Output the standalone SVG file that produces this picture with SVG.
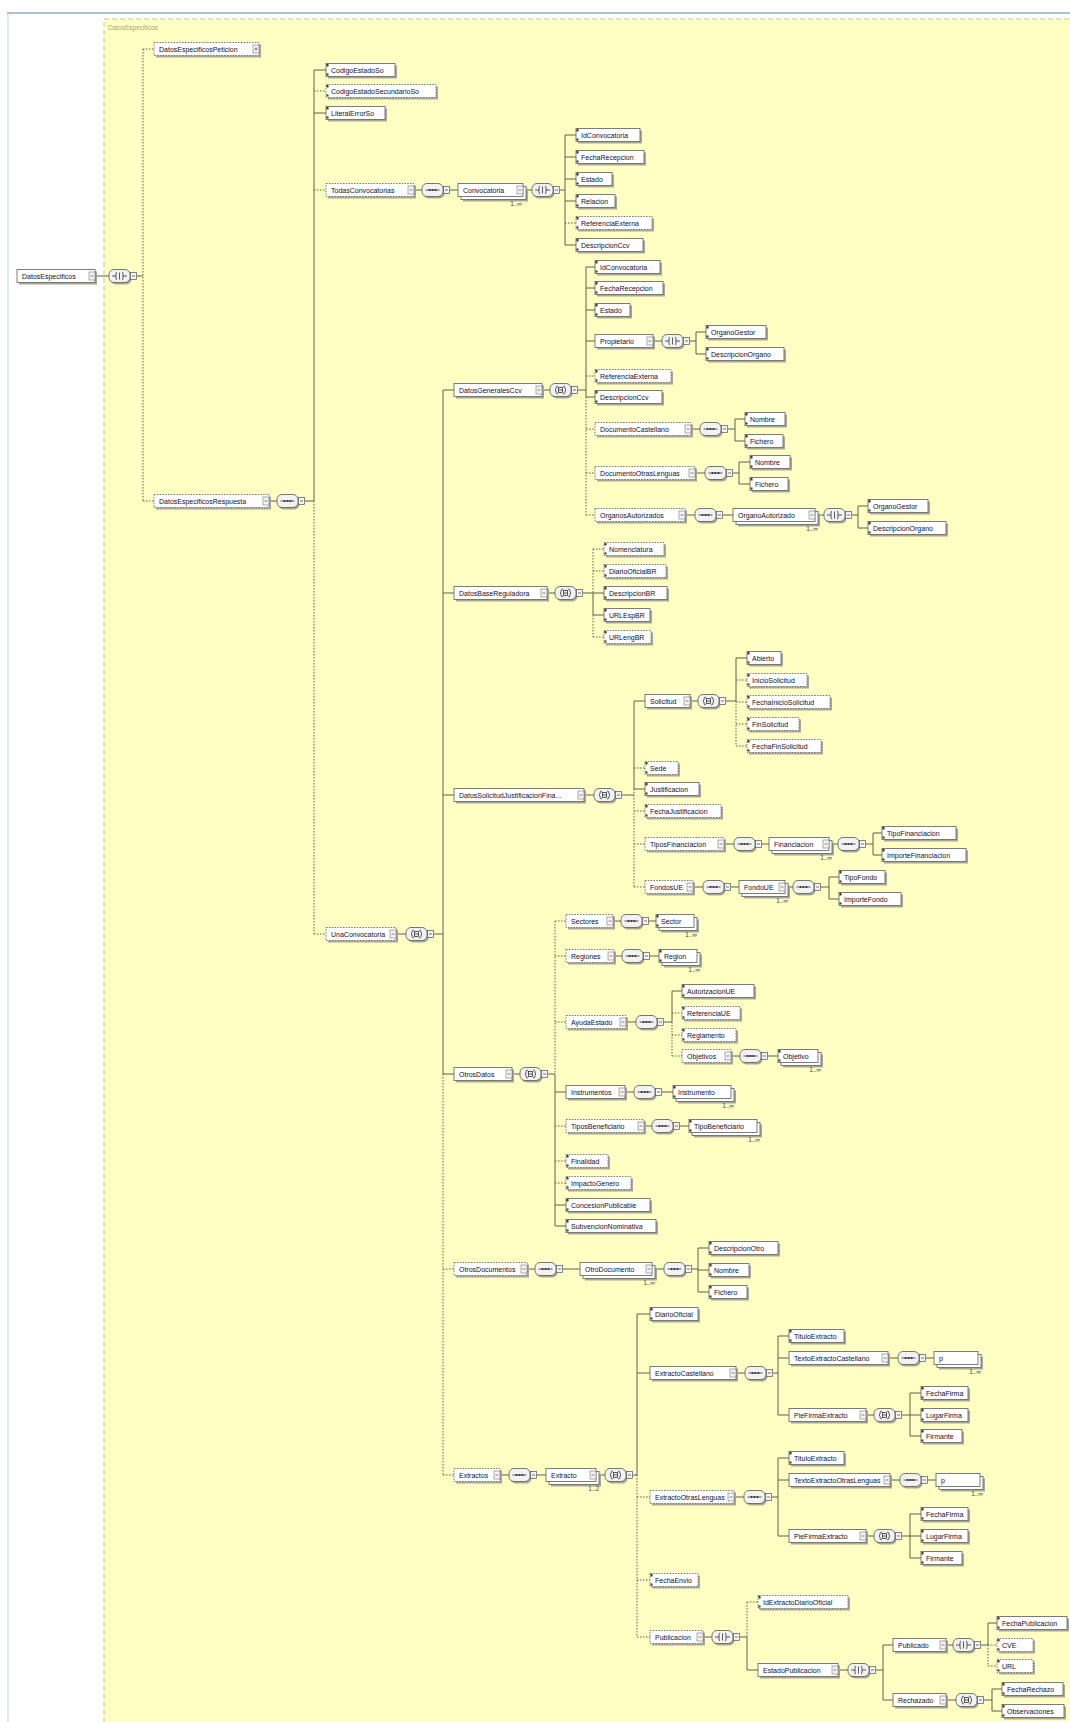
<svg xmlns="http://www.w3.org/2000/svg" xmlns:xlink="http://www.w3.org/1999/xlink" width="1070" height="1722" viewBox="0 0 1070 1722">
<style>
.s{fill:#a9a896}
.b{fill:#fff;stroke:#6e6e6e;stroke-width:0.9}
.o{stroke-dasharray:1.6 1.2}
.t{font-family:"Liberation Sans",Arial,sans-serif;font-size:7px;fill:#10102e}
.m{font-family:"Liberation Sans",Arial,sans-serif;font-size:6.5px;fill:#444;text-anchor:end}
.k{fill:none;stroke:#5e5e4e;stroke-width:1}
.dt{stroke-dasharray:1.5 1.5}
.cp{fill:#f2f2f2;stroke:#666;stroke-width:0.9}
.ic{fill:none;stroke:#333;stroke-width:0.8}
</style>
<defs>
<g id="ex"><rect x="-3" y="-4" width="6" height="8" fill="#f4f4f4" stroke="#8a8a8a" stroke-width="0.7"/><path d="M-1.5,0H1.5" stroke="#555" stroke-width="0.7"/></g>
<g id="exp"><rect x="-3" y="-4" width="6" height="8" fill="#f4f4f4" stroke="#8a8a8a" stroke-width="0.7"/><path d="M-1.5,0H1.5M0,-1.5V1.5" stroke="#555" stroke-width="0.7"/></g>
<g id="lf"><rect x="0.5" y="-6" width="2" height="2.5" fill="#333"/><rect x="0.5" y="3.5" width="2" height="2" fill="#333"/></g>
<g id="cbox"><rect x="21.5" y="-3.5" width="6" height="7" fill="#f4f4f4" stroke="#555" stroke-width="0.7"/><path d="M23,0H26" stroke="#444" stroke-width="0.7"/></g>
<g id="cSeq"><rect x="1.5" y="-4.5" width="21" height="13" rx="5" class="s"/><rect x="0" y="-6.5" width="21" height="13" rx="5" class="cp"/><path d="M3.5,0H17.5" class="ic"/><circle cx="7.5" cy="0" r="1.1" fill="#333"/><circle cx="10.5" cy="0" r="1.1" fill="#333"/><circle cx="13.5" cy="0" r="1.1" fill="#333"/><use href="#cbox"/></g>
<g id="cAll"><rect x="1.5" y="-4.5" width="21" height="13" rx="5" class="s"/><rect x="0" y="-6.5" width="21" height="13" rx="5" class="cp"/><path d="M8,-4Q6,-4 6,-2V-1L5,0L6,1V2Q6,4 8,4M13,-4Q15,-4 15,-2V-1L16,0L15,1V2Q15,4 13,4" class="ic"/><rect x="8.5" y="-2.5" width="4" height="5" class="ic"/><path d="M8.5,0H12.5" class="ic"/><use href="#cbox"/></g>
<g id="cCh"><rect x="1.5" y="-4.5" width="21" height="13" rx="5" class="s"/><rect x="0" y="-6.5" width="21" height="13" rx="5" class="cp"/><path d="M3,0H7M14,0H18M8,-4Q7,-4 7,-2V2Q7,4 8,4M13,-4Q14,-4 14,-2V2Q14,4 13,4M10.5,-3.5V3.5" class="ic"/><use href="#cbox"/></g>
</defs>
<rect x="0" y="0" width="1070" height="1722" fill="#fff"/>
<rect x="7" y="12" width="1063" height="2" fill="#aac0d6"/>
<rect x="7" y="14" width="2" height="1708" fill="#e2ebf3"/>
<rect x="104" y="19" width="980" height="1720" fill="#ffffc4" stroke="#c9c49a" stroke-width="1" stroke-dasharray="5 3"/>
<text x="108" y="30" style="font-family:'Liberation Sans',Arial,sans-serif;font-size:6.5px;fill:#a8a478">DatosEspecificos</text>

<g id="connectors">
<path class="k" d="M95,276H109M137,276H143M269,501H277M305,501H314M314,70V501M314,70H326M314,113H326M414,190H422M450,190H458M526,190H532M560,190H565M565,135V245M565,135H576M565,157H576M565,179H576M565,201H576M565,245H576M396,934H406M434,934H443M443,390V1074M443,390H454M443,593H454M443,795H454M443,1074H454M542,390H550M578,390H586M586,267V397M586,267H595M586,288H595M586,310H595M586,341H595M586,397H595M653,341H662M690,341H696M696,332V354M696,332H706M696,354H706M691,429H700M728,429H735M735,419V441M735,419H745M735,441H745M695,473H705M733,473H739M739,462V484M739,462H750M739,484H750M685,515H695M723,515H733M818,515H824M852,515H858M858,506V528M858,506H868M858,528H868M547,593H555M583,593H593M593,593V615M593,593H604M593,615H604M584,795H594M622,795H634M634,701V789M634,701H645M634,789H645M690,701H698M726,701H736M736,658V701M736,658H747M724,844H734M762,844H769M832,844H838M866,844H873M873,833V855M873,833H882M873,855H882M693,887H703M731,887H739M788,887H793M821,887H829M829,877V899M829,877H839M829,899H839M512,1074H520M548,1074H555M555,1074V1226M555,1092H566M555,1205H566M555,1226H566M613,921H621M649,921H656M614,956H622M650,956H659M626,1022H636M664,1022H672M672,991V1022M672,991H682M731,1056H740M768,1056H778M625,1092H634M662,1092H673M644,1126H652M680,1126H689M527,1269H535M563,1269H580M655,1269H664M692,1269H698M698,1248V1292M698,1248H709M698,1270H709M698,1292H709M500,1475H509M537,1475H546M599,1475H605M633,1475H637M637,1314V1475M637,1314H650M637,1373H650M736,1373H745M773,1373H778M778,1336V1415M778,1336H789M778,1358H789M778,1415H789M888,1358H898M926,1358H934M866,1415H874M902,1415H910M910,1393V1436M910,1393H921M910,1415H921M910,1436H921M734,1497H744M772,1497H778M778,1458V1536M778,1458H789M778,1480H789M778,1536H789M890,1480H900M928,1480H936M866,1536H874M902,1536H910M910,1514V1558M910,1514H921M910,1536H921M910,1558H921M703,1637H712M740,1637H747M747,1637V1670M747,1670H758M838,1670H848M876,1670H883M883,1645V1700M883,1645H893M883,1700H893M946,1645H953M981,1645H988M988,1623V1645M988,1623H997M946,1700H956M984,1700H992M992,1689V1711M992,1689H1002M992,1711H1002"/>
<path class="k dt" d="M143,49V501M143,49H154M143,501H154M314,501V934M314,91H326M314,190H326M314,934H326M565,223H576M443,1074V1475M443,1269H454M443,1475H454M586,397V515M586,376H595M586,429H595M586,473H595M586,515H595M593,549V593M593,615V637M593,549H604M593,571H604M593,637H604M634,789V887M634,768H645M634,811H645M634,844H645M634,887H645M736,701V746M736,680H747M736,702H747M736,724H747M736,746H747M555,921V1074M555,921H566M555,956H566M555,1022H566M555,1126H566M555,1161H566M555,1183H566M672,1022V1056M672,1013H682M672,1035H682M672,1056H682M637,1475V1637M637,1497H650M637,1580H650M637,1637H650M747,1602V1637M747,1602H758M988,1645V1666M988,1645H997M988,1666H997"/>
</g>

<g id="compositors">
<use href="#cCh" x="109" y="276"/><use href="#cSeq" x="277" y="501"/><use href="#cSeq" x="422" y="190"/><use href="#cCh" x="532" y="190"/><use href="#cAll" x="406" y="934"/><use href="#cAll" x="550" y="390"/><use href="#cCh" x="662" y="341"/><use href="#cSeq" x="700" y="429"/><use href="#cSeq" x="705" y="473"/><use href="#cSeq" x="695" y="515"/><use href="#cCh" x="824" y="515"/><use href="#cAll" x="555" y="593"/><use href="#cAll" x="594" y="795"/><use href="#cAll" x="698" y="701"/><use href="#cSeq" x="734" y="844"/><use href="#cSeq" x="838" y="844"/><use href="#cSeq" x="703" y="887"/><use href="#cSeq" x="793" y="887"/><use href="#cAll" x="520" y="1074"/><use href="#cSeq" x="621" y="921"/><use href="#cSeq" x="622" y="956"/><use href="#cSeq" x="636" y="1022"/><use href="#cSeq" x="740" y="1056"/><use href="#cSeq" x="634" y="1092"/><use href="#cSeq" x="652" y="1126"/><use href="#cSeq" x="535" y="1269"/><use href="#cSeq" x="664" y="1269"/><use href="#cSeq" x="509" y="1475"/><use href="#cAll" x="605" y="1475"/><use href="#cSeq" x="745" y="1373"/><use href="#cSeq" x="898" y="1358"/><use href="#cAll" x="874" y="1415"/><use href="#cSeq" x="744" y="1497"/><use href="#cSeq" x="900" y="1480"/><use href="#cAll" x="874" y="1536"/><use href="#cCh" x="712" y="1637"/><use href="#cCh" x="848" y="1670"/><use href="#cCh" x="953" y="1645"/><use href="#cAll" x="956" y="1700"/>
</g>

<g id="nodes">
<g id="DatosEspecificos"><rect class="s" x="19" y="271.5" width="78" height="13"/><rect class="b" x="17" y="269.5" width="78" height="13"/><text class="t" x="22" y="278.5">DatosEspecificos</text><use href="#ex" x="92" y="276"/></g>
<g id="DatosEspecificosPeticion"><rect class="s" x="156" y="44.5" width="105" height="13"/><rect class="b o" x="154" y="42.5" width="105" height="13"/><text class="t" x="159" y="51.5">DatosEspecificosPeticion</text><use href="#exp" x="256" y="49"/></g>
<g id="DatosEspecificosRespuesta"><rect class="s" x="156" y="496.5" width="115" height="13"/><rect class="b o" x="154" y="494.5" width="115" height="13"/><text class="t" x="159" y="503.5">DatosEspecificosRespuesta</text><use href="#ex" x="266" y="501"/></g>
<g id="CodigoEstadoSo"><rect class="s" x="328" y="65.5" width="69" height="13"/><rect class="b" x="326" y="63.5" width="69" height="13"/><use href="#lf" x="326" y="70"/><text class="t" x="331" y="72.5">CodigoEstadoSo</text></g>
<g id="CodigoEstadoSecundarioSo"><rect class="s" x="328" y="86.5" width="110" height="13"/><rect class="b o" x="326" y="84.5" width="110" height="13"/><use href="#lf" x="326" y="91"/><text class="t" x="331" y="93.5">CodigoEstadoSecundarioSo</text></g>
<g id="LiteralErrorSo"><rect class="s" x="328" y="108.5" width="59" height="13"/><rect class="b" x="326" y="106.5" width="59" height="13"/><use href="#lf" x="326" y="113"/><text class="t" x="331" y="115.5">LiteralErrorSo</text></g>
<g id="TodasConvocatorias"><rect class="s" x="328" y="185.5" width="88" height="13"/><rect class="b o" x="326" y="183.5" width="88" height="13"/><text class="t" x="331" y="192.5">TodasConvocatorias</text><use href="#ex" x="411" y="190"/></g>
<g id="Convocatoria"><rect class="s" x="463" y="188.5" width="65" height="13"/><rect class="b" x="461" y="186.5" width="65" height="13"/><rect class="b" x="458" y="183.5" width="65" height="13"/><text class="t" x="463" y="192.5">Convocatoria</text><use href="#ex" x="520" y="190"/><text class="m" x="522" y="206">1..∞</text></g>
<g id="TC-IdConvocatoria"><rect class="s" x="578" y="130.5" width="64" height="13"/><rect class="b" x="576" y="128.5" width="64" height="13"/><use href="#lf" x="576" y="135"/><text class="t" x="581" y="137.5">IdConvocatoria</text></g>
<g id="TC-FechaRecepcion"><rect class="s" x="578" y="152.5" width="68" height="13"/><rect class="b" x="576" y="150.5" width="68" height="13"/><use href="#lf" x="576" y="157"/><text class="t" x="581" y="159.5">FechaRecepcion</text></g>
<g id="TC-Estado"><rect class="s" x="578" y="174.5" width="36" height="13"/><rect class="b" x="576" y="172.5" width="36" height="13"/><use href="#lf" x="576" y="179"/><text class="t" x="581" y="181.5">Estado</text></g>
<g id="TC-Relacion"><rect class="s" x="578" y="196.5" width="39" height="13"/><rect class="b" x="576" y="194.5" width="39" height="13"/><use href="#lf" x="576" y="201"/><text class="t" x="581" y="203.5">Relacion</text></g>
<g id="TC-ReferenciaExterna"><rect class="s" x="578" y="218.5" width="76" height="13"/><rect class="b o" x="576" y="216.5" width="76" height="13"/><use href="#lf" x="576" y="223"/><text class="t" x="581" y="225.5">ReferenciaExterna</text></g>
<g id="TC-DescripcionCcv"><rect class="s" x="578" y="240.5" width="67" height="13"/><rect class="b" x="576" y="238.5" width="67" height="13"/><use href="#lf" x="576" y="245"/><text class="t" x="581" y="247.5">DescripcionCcv</text></g>
<g id="UnaConvocatoria"><rect class="s" x="328" y="929.5" width="70" height="13"/><rect class="b o" x="326" y="927.5" width="70" height="13"/><text class="t" x="331" y="936.5">UnaConvocatoria</text><use href="#ex" x="393" y="934"/></g>
<g id="DatosGeneralesCcv"><rect class="s" x="456" y="385.5" width="88" height="13"/><rect class="b" x="454" y="383.5" width="88" height="13"/><text class="t" x="459" y="392.5">DatosGeneralesCcv</text><use href="#ex" x="539" y="390"/></g>
<g id="DG-IdConvocatoria"><rect class="s" x="597" y="262.5" width="65" height="13"/><rect class="b" x="595" y="260.5" width="65" height="13"/><use href="#lf" x="595" y="267"/><text class="t" x="600" y="269.5">IdConvocatoria</text></g>
<g id="DG-FechaRecepcion"><rect class="s" x="597" y="283.5" width="68" height="13"/><rect class="b" x="595" y="281.5" width="68" height="13"/><use href="#lf" x="595" y="288"/><text class="t" x="600" y="290.5">FechaRecepcion</text></g>
<g id="DG-Estado"><rect class="s" x="597" y="305.5" width="35" height="13"/><rect class="b" x="595" y="303.5" width="35" height="13"/><use href="#lf" x="595" y="310"/><text class="t" x="600" y="312.5">Estado</text></g>
<g id="DG-Propietario"><rect class="s" x="597" y="336.5" width="58" height="13"/><rect class="b" x="595" y="334.5" width="58" height="13"/><text class="t" x="600" y="343.5">Propietario</text><use href="#ex" x="650" y="341"/></g>
<g id="PR-OrganoGestor"><rect class="s" x="708" y="327.5" width="60" height="13"/><rect class="b" x="706" y="325.5" width="60" height="13"/><use href="#lf" x="706" y="332"/><text class="t" x="711" y="334.5">OrganoGestor</text></g>
<g id="PR-DescripcionOrgano"><rect class="s" x="708" y="349.5" width="78" height="13"/><rect class="b" x="706" y="347.5" width="78" height="13"/><use href="#lf" x="706" y="354"/><text class="t" x="711" y="356.5">DescripcionOrgano</text></g>
<g id="DG-ReferenciaExterna"><rect class="s" x="597" y="371.5" width="76" height="13"/><rect class="b o" x="595" y="369.5" width="76" height="13"/><use href="#lf" x="595" y="376"/><text class="t" x="600" y="378.5">ReferenciaExterna</text></g>
<g id="DG-DescripcionCcv"><rect class="s" x="597" y="392.5" width="67" height="13"/><rect class="b" x="595" y="390.5" width="67" height="13"/><use href="#lf" x="595" y="397"/><text class="t" x="600" y="399.5">DescripcionCcv</text></g>
<g id="DG-DocumentoCastellano"><rect class="s" x="597" y="424.5" width="96" height="13"/><rect class="b o" x="595" y="422.5" width="96" height="13"/><text class="t" x="600" y="431.5">DocumentoCastellano</text><use href="#ex" x="688" y="429"/></g>
<g id="DC-Nombre"><rect class="s" x="747" y="414.5" width="40" height="13"/><rect class="b" x="745" y="412.5" width="40" height="13"/><use href="#lf" x="745" y="419"/><text class="t" x="750" y="421.5">Nombre</text></g>
<g id="DC-Fichero"><rect class="s" x="747" y="436.5" width="38" height="13"/><rect class="b" x="745" y="434.5" width="38" height="13"/><use href="#lf" x="745" y="441"/><text class="t" x="750" y="443.5">Fichero</text></g>
<g id="DG-DocumentoOtrasLenguas"><rect class="s" x="597" y="468.5" width="100" height="13"/><rect class="b o" x="595" y="466.5" width="100" height="13"/><text class="t" x="600" y="475.5">DocumentoOtrasLenguas</text><use href="#ex" x="692" y="473"/></g>
<g id="DO-Nombre"><rect class="s" x="752" y="457.5" width="40" height="13"/><rect class="b" x="750" y="455.5" width="40" height="13"/><use href="#lf" x="750" y="462"/><text class="t" x="755" y="464.5">Nombre</text></g>
<g id="DO-Fichero"><rect class="s" x="752" y="479.5" width="38" height="13"/><rect class="b" x="750" y="477.5" width="38" height="13"/><use href="#lf" x="750" y="484"/><text class="t" x="755" y="486.5">Fichero</text></g>
<g id="DG-OrganosAutorizados"><rect class="s" x="597" y="510.5" width="90" height="13"/><rect class="b o" x="595" y="508.5" width="90" height="13"/><text class="t" x="600" y="517.5">OrganosAutorizados</text><use href="#ex" x="682" y="515"/></g>
<g id="OrganoAutorizado"><rect class="s" x="738" y="513.5" width="82" height="13"/><rect class="b" x="736" y="511.5" width="82" height="13"/><rect class="b" x="733" y="508.5" width="82" height="13"/><text class="t" x="738" y="517.5">OrganoAutorizado</text><use href="#ex" x="812" y="515"/><text class="m" x="818" y="531">1..∞</text></g>
<g id="OA-OrganoGestor"><rect class="s" x="870" y="501.5" width="60" height="13"/><rect class="b" x="868" y="499.5" width="60" height="13"/><use href="#lf" x="868" y="506"/><text class="t" x="873" y="508.5">OrganoGestor</text></g>
<g id="OA-DescripcionOrgano"><rect class="s" x="870" y="523.5" width="78" height="13"/><rect class="b" x="868" y="521.5" width="78" height="13"/><use href="#lf" x="868" y="528"/><text class="t" x="873" y="530.5">DescripcionOrgano</text></g>
<g id="DatosBaseReguladora"><rect class="s" x="456" y="588.5" width="93" height="13"/><rect class="b" x="454" y="586.5" width="93" height="13"/><text class="t" x="459" y="595.5">DatosBaseReguladora</text><use href="#ex" x="544" y="593"/></g>
<g id="BR-Nomenclatura"><rect class="s" x="606" y="544.5" width="60" height="13"/><rect class="b o" x="604" y="542.5" width="60" height="13"/><use href="#lf" x="604" y="549"/><text class="t" x="609" y="551.5">Nomenclatura</text></g>
<g id="BR-DiarioOficialBR"><rect class="s" x="606" y="566.5" width="62" height="13"/><rect class="b o" x="604" y="564.5" width="62" height="13"/><use href="#lf" x="604" y="571"/><text class="t" x="609" y="573.5">DiarioOficialBR</text></g>
<g id="BR-DescripcionBR"><rect class="s" x="606" y="588.5" width="63" height="13"/><rect class="b" x="604" y="586.5" width="63" height="13"/><use href="#lf" x="604" y="593"/><text class="t" x="609" y="595.5">DescripcionBR</text></g>
<g id="BR-URLEspBR"><rect class="s" x="606" y="610.5" width="46" height="13"/><rect class="b" x="604" y="608.5" width="46" height="13"/><use href="#lf" x="604" y="615"/><text class="t" x="609" y="617.5">URLEspBR</text></g>
<g id="BR-URLengBR"><rect class="s" x="606" y="632.5" width="47" height="13"/><rect class="b o" x="604" y="630.5" width="47" height="13"/><use href="#lf" x="604" y="637"/><text class="t" x="609" y="639.5">URLengBR</text></g>
<g id="DatosSolicitudJustificacionFina"><rect class="s" x="456" y="790.5" width="130" height="13"/><rect class="b" x="454" y="788.5" width="130" height="13"/><text class="t" x="459" y="797.5">DatosSolicitudJustificacionFina...</text><use href="#ex" x="581" y="795"/></g>
<g id="SJ-Solicitud"><rect class="s" x="647" y="696.5" width="45" height="13"/><rect class="b" x="645" y="694.5" width="45" height="13"/><text class="t" x="650" y="703.5">Solicitud</text><use href="#ex" x="687" y="701"/></g>
<g id="SO-Abierto"><rect class="s" x="749" y="653.5" width="34" height="13"/><rect class="b" x="747" y="651.5" width="34" height="13"/><use href="#lf" x="747" y="658"/><text class="t" x="752" y="660.5">Abierto</text></g>
<g id="SO-InicioSolicitud"><rect class="s" x="749" y="675.5" width="60" height="13"/><rect class="b o" x="747" y="673.5" width="60" height="13"/><use href="#lf" x="747" y="680"/><text class="t" x="752" y="682.5">InicioSolicitud</text></g>
<g id="SO-FechaInicioSolicitud"><rect class="s" x="749" y="697.5" width="83" height="13"/><rect class="b o" x="747" y="695.5" width="83" height="13"/><use href="#lf" x="747" y="702"/><text class="t" x="752" y="704.5">FechaInicioSolicitud</text></g>
<g id="SO-FinSolicitud"><rect class="s" x="749" y="719.5" width="52" height="13"/><rect class="b o" x="747" y="717.5" width="52" height="13"/><use href="#lf" x="747" y="724"/><text class="t" x="752" y="726.5">FinSolicitud</text></g>
<g id="SO-FechaFinSolicitud"><rect class="s" x="749" y="741.5" width="74" height="13"/><rect class="b o" x="747" y="739.5" width="74" height="13"/><use href="#lf" x="747" y="746"/><text class="t" x="752" y="748.5">FechaFinSolicitud</text></g>
<g id="SJ-Sede"><rect class="s" x="647" y="763.5" width="33" height="13"/><rect class="b o" x="645" y="761.5" width="33" height="13"/><use href="#lf" x="645" y="768"/><text class="t" x="650" y="770.5">Sede</text></g>
<g id="SJ-Justificacion"><rect class="s" x="647" y="784.5" width="54" height="13"/><rect class="b" x="645" y="782.5" width="54" height="13"/><use href="#lf" x="645" y="789"/><text class="t" x="650" y="791.5">Justificacion</text></g>
<g id="SJ-FechaJustificacion"><rect class="s" x="647" y="806.5" width="76" height="13"/><rect class="b o" x="645" y="804.5" width="76" height="13"/><use href="#lf" x="645" y="811"/><text class="t" x="650" y="813.5">FechaJustificacion</text></g>
<g id="SJ-TiposFinanciacion"><rect class="s" x="647" y="839.5" width="79" height="13"/><rect class="b o" x="645" y="837.5" width="79" height="13"/><text class="t" x="650" y="846.5">TiposFinanciacion</text><use href="#ex" x="721" y="844"/></g>
<g id="Financiacion"><rect class="s" x="774" y="842.5" width="60" height="13"/><rect class="b" x="772" y="840.5" width="60" height="13"/><rect class="b" x="769" y="837.5" width="60" height="13"/><text class="t" x="774" y="846.5">Financiacion</text><use href="#ex" x="826" y="844"/><text class="m" x="832" y="860">1..∞</text></g>
<g id="FI-TipoFinanciacion"><rect class="s" x="884" y="828.5" width="74" height="13"/><rect class="b" x="882" y="826.5" width="74" height="13"/><use href="#lf" x="882" y="833"/><text class="t" x="887" y="835.5">TipoFinanciacion</text></g>
<g id="FI-ImporteFinanciacion"><rect class="s" x="884" y="850.5" width="84" height="13"/><rect class="b" x="882" y="848.5" width="84" height="13"/><use href="#lf" x="882" y="855"/><text class="t" x="887" y="857.5">ImporteFinanciacion</text></g>
<g id="SJ-FondosUE"><rect class="s" x="647" y="882.5" width="48" height="13"/><rect class="b o" x="645" y="880.5" width="48" height="13"/><text class="t" x="650" y="889.5">FondosUE</text><use href="#ex" x="690" y="887"/></g>
<g id="FondoUE"><rect class="s" x="744" y="885.5" width="46" height="13"/><rect class="b" x="742" y="883.5" width="46" height="13"/><rect class="b" x="739" y="880.5" width="46" height="13"/><text class="t" x="744" y="889.5">FondoUE</text><use href="#ex" x="782" y="887"/><text class="m" x="788" y="903">1..∞</text></g>
<g id="FU-TipoFondo"><rect class="s" x="841" y="872.5" width="46" height="13"/><rect class="b" x="839" y="870.5" width="46" height="13"/><use href="#lf" x="839" y="877"/><text class="t" x="844" y="879.5">TipoFondo</text></g>
<g id="FU-ImporteFondo"><rect class="s" x="841" y="894.5" width="62" height="13"/><rect class="b" x="839" y="892.5" width="62" height="13"/><use href="#lf" x="839" y="899"/><text class="t" x="844" y="901.5">ImporteFondo</text></g>
<g id="OtrosDatos"><rect class="s" x="456" y="1069.5" width="58" height="13"/><rect class="b" x="454" y="1067.5" width="58" height="13"/><text class="t" x="459" y="1076.5">OtrosDatos</text><use href="#ex" x="509" y="1074"/></g>
<g id="OD-Sectores"><rect class="s" x="568" y="916.5" width="47" height="13"/><rect class="b o" x="566" y="914.5" width="47" height="13"/><text class="t" x="571" y="923.5">Sectores</text><use href="#ex" x="610" y="921"/></g>
<g id="Sector"><rect class="s" x="661" y="919.5" width="38" height="13"/><rect class="b" x="659" y="917.5" width="38" height="13"/><rect class="b" x="656" y="914.5" width="38" height="13"/><use href="#lf" x="656" y="921"/><text class="t" x="661" y="923.5">Sector</text><text class="m" x="697" y="937">1..∞</text></g>
<g id="OD-Regiones"><rect class="s" x="568" y="951.5" width="48" height="13"/><rect class="b o" x="566" y="949.5" width="48" height="13"/><text class="t" x="571" y="958.5">Regiones</text><use href="#ex" x="611" y="956"/></g>
<g id="Region"><rect class="s" x="664" y="954.5" width="38" height="13"/><rect class="b" x="662" y="952.5" width="38" height="13"/><rect class="b" x="659" y="949.5" width="38" height="13"/><use href="#lf" x="659" y="956"/><text class="t" x="664" y="958.5">Region</text><text class="m" x="700" y="972">1..∞</text></g>
<g id="OD-AyudaEstado"><rect class="s" x="568" y="1017.5" width="60" height="13"/><rect class="b o" x="566" y="1015.5" width="60" height="13"/><text class="t" x="571" y="1024.5">AyudaEstado</text><use href="#ex" x="623" y="1022"/></g>
<g id="AE-AutorizacionUE"><rect class="s" x="684" y="986.5" width="72" height="13"/><rect class="b" x="682" y="984.5" width="72" height="13"/><use href="#lf" x="682" y="991"/><text class="t" x="687" y="993.5">AutorizacionUE</text></g>
<g id="AE-ReferenciaUE"><rect class="s" x="684" y="1008.5" width="58" height="13"/><rect class="b o" x="682" y="1006.5" width="58" height="13"/><use href="#lf" x="682" y="1013"/><text class="t" x="687" y="1015.5">ReferenciaUE</text></g>
<g id="AE-Reglamento"><rect class="s" x="684" y="1030.5" width="54" height="13"/><rect class="b o" x="682" y="1028.5" width="54" height="13"/><use href="#lf" x="682" y="1035"/><text class="t" x="687" y="1037.5">Reglamento</text></g>
<g id="AE-Objetivos"><rect class="s" x="684" y="1051.5" width="49" height="13"/><rect class="b o" x="682" y="1049.5" width="49" height="13"/><text class="t" x="687" y="1058.5">Objetivos</text><use href="#ex" x="728" y="1056"/></g>
<g id="Objetivo"><rect class="s" x="783" y="1054.5" width="40" height="13"/><rect class="b" x="781" y="1052.5" width="40" height="13"/><rect class="b" x="778" y="1049.5" width="40" height="13"/><use href="#lf" x="778" y="1056"/><text class="t" x="783" y="1058.5">Objetivo</text><text class="m" x="821" y="1072">1..∞</text></g>
<g id="OD-Instrumentos"><rect class="s" x="568" y="1087.5" width="59" height="13"/><rect class="b" x="566" y="1085.5" width="59" height="13"/><text class="t" x="571" y="1094.5">Instrumentos</text><use href="#ex" x="622" y="1092"/></g>
<g id="Instrumento"><rect class="s" x="678" y="1090.5" width="58" height="13"/><rect class="b" x="676" y="1088.5" width="58" height="13"/><rect class="b" x="673" y="1085.5" width="58" height="13"/><use href="#lf" x="673" y="1092"/><text class="t" x="678" y="1094.5">Instrumento</text><text class="m" x="734" y="1108">1..∞</text></g>
<g id="OD-TiposBeneficiario"><rect class="s" x="568" y="1121.5" width="78" height="13"/><rect class="b o" x="566" y="1119.5" width="78" height="13"/><text class="t" x="571" y="1128.5">TiposBeneficiario</text><use href="#ex" x="641" y="1126"/></g>
<g id="TipoBeneficiario"><rect class="s" x="694" y="1124.5" width="68" height="13"/><rect class="b" x="692" y="1122.5" width="68" height="13"/><rect class="b" x="689" y="1119.5" width="68" height="13"/><use href="#lf" x="689" y="1126"/><text class="t" x="694" y="1128.5">TipoBeneficiario</text><text class="m" x="760" y="1142">1..∞</text></g>
<g id="OD-Finalidad"><rect class="s" x="568" y="1156.5" width="42" height="13"/><rect class="b o" x="566" y="1154.5" width="42" height="13"/><use href="#lf" x="566" y="1161"/><text class="t" x="571" y="1163.5">Finalidad</text></g>
<g id="OD-ImpactoGenero"><rect class="s" x="568" y="1178.5" width="65" height="13"/><rect class="b o" x="566" y="1176.5" width="65" height="13"/><use href="#lf" x="566" y="1183"/><text class="t" x="571" y="1185.5">ImpactoGenero</text></g>
<g id="OD-ConcesionPublicable"><rect class="s" x="568" y="1200.5" width="84" height="13"/><rect class="b" x="566" y="1198.5" width="84" height="13"/><use href="#lf" x="566" y="1205"/><text class="t" x="571" y="1207.5">ConcesionPublicable</text></g>
<g id="OD-SubvencionNominativa"><rect class="s" x="568" y="1221.5" width="90" height="13"/><rect class="b" x="566" y="1219.5" width="90" height="13"/><use href="#lf" x="566" y="1226"/><text class="t" x="571" y="1228.5">SubvencionNominativa</text></g>
<g id="OtrosDocumentos"><rect class="s" x="456" y="1264.5" width="73" height="13"/><rect class="b o" x="454" y="1262.5" width="73" height="13"/><text class="t" x="459" y="1271.5">OtrosDocumentos</text><use href="#ex" x="524" y="1269"/></g>
<g id="OtroDocumento"><rect class="s" x="585" y="1267.5" width="72" height="13"/><rect class="b" x="583" y="1265.5" width="72" height="13"/><rect class="b" x="580" y="1262.5" width="72" height="13"/><text class="t" x="585" y="1271.5">OtroDocumento</text><use href="#ex" x="649" y="1269"/><text class="m" x="655" y="1285">1..∞</text></g>
<g id="ODoc-DescripcionOtro"><rect class="s" x="711" y="1243.5" width="69" height="13"/><rect class="b" x="709" y="1241.5" width="69" height="13"/><use href="#lf" x="709" y="1248"/><text class="t" x="714" y="1250.5">DescripcionOtro</text></g>
<g id="ODoc-Nombre"><rect class="s" x="711" y="1265.5" width="40" height="13"/><rect class="b" x="709" y="1263.5" width="40" height="13"/><use href="#lf" x="709" y="1270"/><text class="t" x="714" y="1272.5">Nombre</text></g>
<g id="ODoc-Fichero"><rect class="s" x="711" y="1287.5" width="38" height="13"/><rect class="b" x="709" y="1285.5" width="38" height="13"/><use href="#lf" x="709" y="1292"/><text class="t" x="714" y="1294.5">Fichero</text></g>
<g id="Extractos"><rect class="s" x="456" y="1470.5" width="46" height="13"/><rect class="b o" x="454" y="1468.5" width="46" height="13"/><text class="t" x="459" y="1477.5">Extractos</text><use href="#ex" x="497" y="1475"/></g>
<g id="Extracto"><rect class="s" x="551" y="1473.5" width="50" height="13"/><rect class="b" x="549" y="1471.5" width="50" height="13"/><rect class="b" x="546" y="1468.5" width="50" height="13"/><text class="t" x="551" y="1477.5">Extracto</text><use href="#ex" x="593" y="1475"/><text class="m" x="599" y="1491">1..2</text></g>
<g id="EX-DiarioOficial"><rect class="s" x="652" y="1309.5" width="48" height="13"/><rect class="b" x="650" y="1307.5" width="48" height="13"/><use href="#lf" x="650" y="1314"/><text class="t" x="655" y="1316.5">DiarioOficial</text></g>
<g id="EX-ExtractoCastellano"><rect class="s" x="652" y="1368.5" width="86" height="13"/><rect class="b" x="650" y="1366.5" width="86" height="13"/><text class="t" x="655" y="1375.5">ExtractoCastellano</text><use href="#ex" x="733" y="1373"/></g>
<g id="EC-TituloExtracto"><rect class="s" x="791" y="1331.5" width="55" height="13"/><rect class="b" x="789" y="1329.5" width="55" height="13"/><use href="#lf" x="789" y="1336"/><text class="t" x="794" y="1338.5">TituloExtracto</text></g>
<g id="EC-TextoExtractoCastellano"><rect class="s" x="791" y="1353.5" width="99" height="13"/><rect class="b" x="789" y="1351.5" width="99" height="13"/><text class="t" x="794" y="1360.5">TextoExtractoCastellano</text><use href="#ex" x="885" y="1358"/></g>
<g id="EC-p"><rect class="s" x="939" y="1356.5" width="44" height="13"/><rect class="b" x="937" y="1354.5" width="44" height="13"/><rect class="b" x="934" y="1351.5" width="44" height="13"/><text class="t" x="939" y="1360.5">p</text><text class="m" x="981" y="1374">1..∞</text></g>
<g id="EC-PieFirmaExtracto"><rect class="s" x="791" y="1410.5" width="77" height="13"/><rect class="b" x="789" y="1408.5" width="77" height="13"/><text class="t" x="794" y="1417.5">PieFirmaExtracto</text><use href="#ex" x="863" y="1415"/></g>
<g id="EC-FechaFirma"><rect class="s" x="923" y="1388.5" width="47" height="13"/><rect class="b" x="921" y="1386.5" width="47" height="13"/><use href="#lf" x="921" y="1393"/><text class="t" x="926" y="1395.5">FechaFirma</text></g>
<g id="EC-LugarFirma"><rect class="s" x="923" y="1410.5" width="47" height="13"/><rect class="b" x="921" y="1408.5" width="47" height="13"/><use href="#lf" x="921" y="1415"/><text class="t" x="926" y="1417.5">LugarFirma</text></g>
<g id="EC-Firmante"><rect class="s" x="923" y="1431.5" width="41" height="13"/><rect class="b" x="921" y="1429.5" width="41" height="13"/><use href="#lf" x="921" y="1436"/><text class="t" x="926" y="1438.5">Firmante</text></g>
<g id="EX-ExtractoOtrasLenguas"><rect class="s" x="652" y="1492.5" width="84" height="13"/><rect class="b o" x="650" y="1490.5" width="84" height="13"/><text class="t" x="655" y="1499.5">ExtractoOtrasLenguas</text><use href="#ex" x="731" y="1497"/></g>
<g id="EO-TituloExtracto"><rect class="s" x="791" y="1453.5" width="55" height="13"/><rect class="b" x="789" y="1451.5" width="55" height="13"/><use href="#lf" x="789" y="1458"/><text class="t" x="794" y="1460.5">TituloExtracto</text></g>
<g id="EO-TextoExtractoOtrasLenguas"><rect class="s" x="791" y="1475.5" width="101" height="13"/><rect class="b" x="789" y="1473.5" width="101" height="13"/><text class="t" x="794" y="1482.5">TextoExtractoOtrasLenguas</text><use href="#ex" x="887" y="1480"/></g>
<g id="EO-p"><rect class="s" x="941" y="1478.5" width="44" height="13"/><rect class="b" x="939" y="1476.5" width="44" height="13"/><rect class="b" x="936" y="1473.5" width="44" height="13"/><text class="t" x="941" y="1482.5">p</text><text class="m" x="983" y="1496">1..∞</text></g>
<g id="EO-PieFirmaExtracto"><rect class="s" x="791" y="1531.5" width="77" height="13"/><rect class="b" x="789" y="1529.5" width="77" height="13"/><text class="t" x="794" y="1538.5">PieFirmaExtracto</text><use href="#ex" x="863" y="1536"/></g>
<g id="EO-FechaFirma"><rect class="s" x="923" y="1509.5" width="47" height="13"/><rect class="b" x="921" y="1507.5" width="47" height="13"/><use href="#lf" x="921" y="1514"/><text class="t" x="926" y="1516.5">FechaFirma</text></g>
<g id="EO-LugarFirma"><rect class="s" x="923" y="1531.5" width="47" height="13"/><rect class="b" x="921" y="1529.5" width="47" height="13"/><use href="#lf" x="921" y="1536"/><text class="t" x="926" y="1538.5">LugarFirma</text></g>
<g id="EO-Firmante"><rect class="s" x="923" y="1553.5" width="41" height="13"/><rect class="b" x="921" y="1551.5" width="41" height="13"/><use href="#lf" x="921" y="1558"/><text class="t" x="926" y="1560.5">Firmante</text></g>
<g id="EX-FechaEnvio"><rect class="s" x="652" y="1575.5" width="48" height="13"/><rect class="b o" x="650" y="1573.5" width="48" height="13"/><use href="#lf" x="650" y="1580"/><text class="t" x="655" y="1582.5">FechaEnvio</text></g>
<g id="EX-Publicacion"><rect class="s" x="652" y="1632.5" width="53" height="13"/><rect class="b o" x="650" y="1630.5" width="53" height="13"/><text class="t" x="655" y="1639.5">Publicacion</text><use href="#ex" x="700" y="1637"/></g>
<g id="PU-IdExtractoDiarioOficial"><rect class="s" x="760" y="1597.5" width="90" height="13"/><rect class="b o" x="758" y="1595.5" width="90" height="13"/><use href="#lf" x="758" y="1602"/><text class="t" x="763" y="1604.5">IdExtractoDiarioOficial</text></g>
<g id="PU-EstadoPublicacion"><rect class="s" x="760" y="1665.5" width="80" height="13"/><rect class="b" x="758" y="1663.5" width="80" height="13"/><text class="t" x="763" y="1672.5">EstadoPublicacion</text><use href="#ex" x="835" y="1670"/></g>
<g id="EP-Publicado"><rect class="s" x="895" y="1640.5" width="53" height="13"/><rect class="b" x="893" y="1638.5" width="53" height="13"/><text class="t" x="898" y="1647.5">Publicado</text><use href="#ex" x="943" y="1645"/></g>
<g id="PB-FechaPublicacion"><rect class="s" x="999" y="1618.5" width="70" height="13"/><rect class="b" x="997" y="1616.5" width="70" height="13"/><use href="#lf" x="997" y="1623"/><text class="t" x="1002" y="1625.5">FechaPublicacion</text></g>
<g id="PB-CVE"><rect class="s" x="999" y="1640.5" width="36" height="13"/><rect class="b o" x="997" y="1638.5" width="36" height="13"/><use href="#lf" x="997" y="1645"/><text class="t" x="1002" y="1647.5">CVE</text></g>
<g id="PB-URL"><rect class="s" x="999" y="1661.5" width="36" height="13"/><rect class="b o" x="997" y="1659.5" width="36" height="13"/><use href="#lf" x="997" y="1666"/><text class="t" x="1002" y="1668.5">URL</text></g>
<g id="EP-Rechazado"><rect class="s" x="895" y="1695.5" width="53" height="13"/><rect class="b" x="893" y="1693.5" width="53" height="13"/><text class="t" x="898" y="1702.5">Rechazado</text><use href="#ex" x="943" y="1700"/></g>
<g id="RE-FechaRechazo"><rect class="s" x="1004" y="1684.5" width="61" height="13"/><rect class="b" x="1002" y="1682.5" width="61" height="13"/><use href="#lf" x="1002" y="1689"/><text class="t" x="1007" y="1691.5">FechaRechazo</text></g>
<g id="RE-Observaciones"><rect class="s" x="1004" y="1706.5" width="62" height="13"/><rect class="b" x="1002" y="1704.5" width="62" height="13"/><use href="#lf" x="1002" y="1711"/><text class="t" x="1007" y="1713.5">Observaciones</text></g>
</g>
</svg>
